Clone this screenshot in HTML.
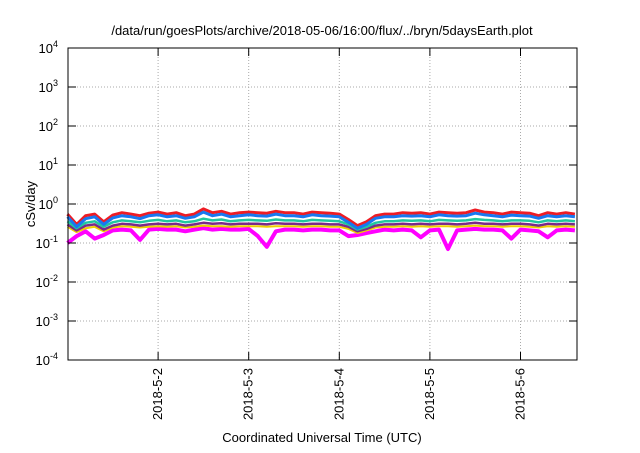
<!DOCTYPE html>
<html><head><meta charset="utf-8"><style>
body{margin:0;background:#fff}
svg text{font-family:"Liberation Sans",sans-serif;fill:#000}
</style></head><body>
<svg id="c" width="640" height="448" viewBox="0 0 640 448" xmlns="http://www.w3.org/2000/svg">
<text x="322" y="35" font-size="13" text-anchor="middle">/data/run/goesPlots/archive/2018-05-06/16:00/flux/../bryn/5daysEarth.plot</text>
<text x="322" y="442" font-size="13" text-anchor="middle">Coordinated Universal Time (UTC)</text>
<text x="35" y="204" font-size="13" text-anchor="middle" transform="rotate(-90 35 204)">cSv/day</text>
<g id="grid"></g><g id="series"></g><g id="axes"></g>
</svg>
<script>
const dayLabels=["2018-5-2","2018-5-3","2018-5-4","2018-5-5","2018-5-6"];
const yExps=[-4,-3,-2,-1,0,1,2,3,4];
const red=[0.55,0.30,0.50,0.55,0.35,0.52,0.60,0.55,0.50,0.58,
0.62,0.55,0.60,0.50,0.55,0.75,0.60,0.65,0.55,0.60,
0.62,0.60,0.58,0.65,0.60,0.60,0.55,0.62,0.60,0.58,
0.55,0.40,0.28,0.35,0.50,0.55,0.55,0.60,0.58,0.60,
0.55,0.62,0.60,0.58,0.60,0.70,0.62,0.60,0.55,0.62,
0.60,0.58,0.50,0.60,0.55,0.60,0.55];
const blue=[0.47,0.26,0.42,0.47,0.30,0.44,0.50,0.47,0.42,0.50,
0.53,0.47,0.50,0.43,0.47,0.62,0.50,0.55,0.47,0.50,
0.53,0.50,0.49,0.55,0.50,0.50,0.47,0.53,0.50,0.49,
0.47,0.34,0.24,0.30,0.43,0.47,0.47,0.50,0.49,0.50,
0.47,0.53,0.50,0.49,0.50,0.58,0.53,0.50,0.47,0.52,
0.50,0.49,0.43,0.50,0.47,0.50,0.47];
const green=[0.36,0.24,0.33,0.36,0.26,0.34,0.38,0.36,0.34,0.37,
0.39,0.36,0.38,0.34,0.36,0.42,0.38,0.40,0.36,0.38,
0.39,0.38,0.37,0.40,0.38,0.38,0.36,0.39,0.38,0.37,
0.36,0.30,0.22,0.26,0.33,0.36,0.36,0.38,0.37,0.38,
0.36,0.39,0.38,0.37,0.38,0.41,0.39,0.38,0.36,0.38,
0.38,0.37,0.34,0.38,0.36,0.38,0.36];
const purple=[0.30,0.21,0.28,0.30,0.22,0.28,0.31,0.30,0.28,0.30,
0.31,0.30,0.31,0.28,0.30,0.33,0.31,0.32,0.30,0.31,
0.31,0.31,0.30,0.32,0.31,0.31,0.30,0.31,0.31,0.30,
0.30,0.26,0.20,0.23,0.28,0.30,0.30,0.31,0.30,0.31,
0.30,0.31,0.31,0.30,0.31,0.33,0.31,0.31,0.30,0.31,
0.31,0.30,0.28,0.31,0.30,0.31,0.30];
const yellow=[0.26,0.19,0.24,0.26,0.20,0.25,0.27,0.26,0.25,0.26,
0.27,0.26,0.27,0.25,0.26,0.28,0.27,0.27,0.26,0.27,
0.27,0.27,0.26,0.27,0.27,0.27,0.26,0.27,0.27,0.26,
0.26,0.23,0.18,0.21,0.25,0.26,0.26,0.27,0.26,0.27,
0.26,0.27,0.27,0.26,0.27,0.28,0.27,0.27,0.26,0.27,
0.27,0.26,0.25,0.27,0.26,0.27,0.26];
const magenta=[0.10,0.15,0.20,0.13,0.16,0.21,0.22,0.21,0.12,0.22,
0.23,0.22,0.22,0.20,0.22,0.24,0.22,0.23,0.22,0.22,
0.23,0.15,0.08,0.20,0.22,0.22,0.21,0.22,0.22,0.21,
0.21,0.15,0.16,0.18,0.20,0.22,0.21,0.22,0.21,0.14,
0.21,0.22,0.07,0.21,0.22,0.23,0.22,0.22,0.21,0.13,
0.22,0.21,0.20,0.14,0.21,0.22,0.21];
const span=5.6;
const L=68,R=577,T=48,B=360,day0=67.5,dayW=90.6;
const xs=d=>day0+d*dayW;
const ys=v=>T+(4-Math.log10(v))*(B-T)/8;
const NS="http://www.w3.org/2000/svg";
function mk(tag,attrs,parent){const e=document.createElementNS(NS,tag);for(const k in attrs)e.setAttribute(k,attrs[k]);parent.appendChild(e);return e;}
const grid=document.getElementById('grid'),axes=document.getElementById('axes'),ser=document.getElementById('series');
yExps.forEach(p=>{const y=ys(Math.pow(10,p));
 if(p>-4&&p<4){const g=mk('line',{x1:L,x2:R,y1:y,y2:y,stroke:'#aaa','stroke-dasharray':'1,2','stroke-width':1},grid);
 
 }
 mk('line',{x1:L,x2:L+8,y1:y,y2:y,stroke:'#000'},axes);
 mk('line',{x1:R,x2:R-8,y1:y,y2:y,stroke:'#000'},axes);
 const t=mk('text',{x:L-10,y:y+5,'font-size':13,'text-anchor':'end'},axes);
 
 
 t.textContent='10';
 const s=mk('tspan',{dy:-6,'font-size':9},t);s.textContent=String(p);
});
dayLabels.forEach((lab,i)=>{const x=xs(i+1);
 const g=mk('line',{x1:x,x2:x,y1:T,y2:B,stroke:'#aaa','stroke-dasharray':'1,2'},grid);
 
 
 mk('line',{x1:x,x2:x,y1:B,y2:B-8,stroke:'#000'},axes);
 mk('line',{x1:x,x2:x,y1:T,y2:T+8,stroke:'#000'},axes);
 const t=mk('text',{x:x+4,y:B+8,'font-size':13,'text-anchor':'end',transform:`rotate(-90 ${x+4} ${B+8})`},axes);
 
 
 t.textContent=lab;
});
const fr=mk('rect',{x:L,y:T,width:R-L,height:B-T,fill:'none',stroke:'#000','stroke-width':1},axes);


const list=[[magenta,'#ff00ff',4,'series-magenta'],[yellow,'#f0d000',2,'series-yellow'],[purple,'#7a2a8a',2.5,'series-purple'],[green,'#20c8a0',2.5,'series-green'],[red,'#ee1c24',3,'series-red'],[blue,'#1878f0',3,'series-blue']];
list.forEach(([arr,col,w,name])=>{
 const n=arr.length;
 const pts=arr.map((v,i)=>xs(i*span/(n-1)).toFixed(1)+','+ys(v).toFixed(1)).join(' ');
 const pl=mk('polyline',{points:pts,fill:'none',stroke:col,'stroke-width':w,'stroke-linejoin':'round'},ser);
 
 
});
</script>
</body></html>
